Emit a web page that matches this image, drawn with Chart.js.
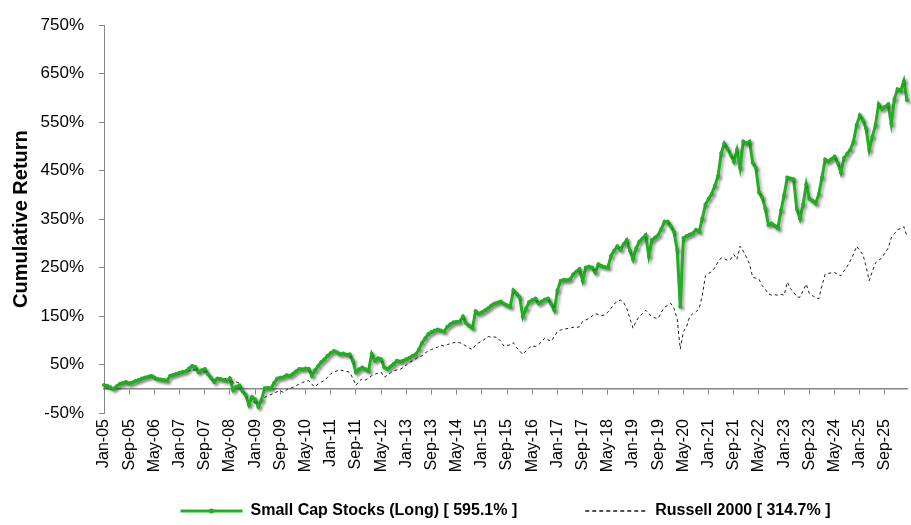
<!DOCTYPE html>
<html>
<head>
<meta charset="utf-8">
<script src="https://cdn.jsdelivr.net/npm/chart.js@4.4.0/dist/chart.umd.min.js"></script>
<style>
  html, body { margin: 0; padding: 0; background: #ffffff; }
  #wrap { width: 911px; height: 525px; position: relative; }
</style>
</head>
<body>
<div id="wrap"><canvas id="c"></canvas></div>
<script>
// ---- Data (monthly, Jan-05 .. Apr-26) ----
const monthNames = ['Jan','Feb','Mar','Apr','May','Jun','Jul','Aug','Sep','Oct','Nov','Dec'];
const startYear = 2005;
const monthCount = 256;
const categories = [];
for (let i = 0; i < monthCount; i++) {
  const y = startYear + Math.floor(i / 12);
  categories.push(monthNames[i % 12] + '-' + String(y % 100).padStart(2, '0'));
}

const smallCapLong = [
  8,6,3,0,5,10,12,14,11,13,
  16,18,21,23,25,27,23,20,19,18,
  17,27,29,31,33,35,36,42,47,45,
  34,38,41,30,22,14,21,20,18,17,
  21,-3,4,7,-5,-13,-33,-17,-22,-37,
  -23,1,2,1,12,21,23,24,28,27,
  31,36,41,40,42,
  41,27,38,47,55,61,
  68,74,78,75,71,73,70,71,58,34,
  40,44,40,37,72,58,63,61,44,41,
  46,51,58,56,58,61,64,68,71,81,
  95,104,113,117,120,122,120,118,128,133,
  137,138,139,149,135,130,125,160,155,158,
  162,166,172,176,178,180,175,172,
  169,203,196,
  189,149,165,179,183,186,176,180,184,186,
  175,162,203,223,225,224,226,236,242,247,
  223,250,252,250,240,257,253,251,250,274,
  285,294,287,298,307,285,267,290,304,310,
  317,274,307,312,317,330,345,345,335,324,
  287,169,311,315,318,321,328,324,351,380,392,
  402,419,439,486,506,495,483,469,493,456,
  510,506,510,466,456,405,395,372,338,341,
  336,331,368,400,436,434,432,371,351,380,
  422,392,388,382,402,436,473,469,474,479,
  466,446,476,485,493,510,544,564,554,537,
  493,520,544,587,577,582,587,547,598,618,
  615,635,595
];

const russell2000 = [
  5,3,0,-1,4,8,10,11,9,12,
  15,17,20,22,23,24,20,18,17,18,
  19,25,27,29,31,33,34,37,40,38,
  31,33,35,28,22,18,23,21,20,22,
  25,11,14,12,-2,-18,-27,-24,-30,-37,
  -28,-18,-14,-12,-9,-6,-4,-8,-2,1,
  3,6,10,13,15,
  17,9,4,10,14,17,
  24,31,35,37,39,37,36,34,22,7,
  15,21,18,22,27,30,32,34,24,28,
  33,37,39,40,44,49,54,58,62,66,
  68,74,78,81,84,86,90,88,91,93,
  95,96,95,92,88,84,81,90,95,98,
  103,108,106,107,105,98,88,89,
  91,95,85,
  78,71,78,85,88,87,91,97,105,101,
  98,108,118,121,123,124,125,127,126,128,
  139,142,145,150,155,153,151,152,158,166,
  175,180,183,178,166,145,125,140,149,155,
  162,155,149,146,145,158,168,172,176,166,
  145,82,118,128,149,155,159,165,193,233,238,
  242,250,262,270,268,265,267,277,267,294,
  284,272,257,230,228,226,213,205,196,193,
  194,193,195,193,220,206,200,189,189,202,
  216,196,192,188,186,213,236,238,239,240,
  236,233,243,252,264,278,294,285,277,253,
  223,242,260,265,270,280,290,311,320,328,
  331,334,315
];

const yTicks = [-50, 50, 150, 250, 350, 450, 550, 650, 750];
const labelEvery = 8;
const seriesNames = ['Small Cap Stocks (Long) [ 595.1% ]', 'Russell 2000 [ 314.7% ]'];

// ---- Styling ----
const GREEN = '#22b022';
const AXIS_GRAY = '#868686';
Chart.defaults.font.family = "'Liberation Sans', Arial, sans-serif";
Chart.defaults.color = '#000000';

const shadowPlugin = {
  id: 'lineShadow',
  beforeDatasetDraw(chart, args) {
    if (args.index === 0) {
      const ctx = chart.ctx;
      ctx.save();
      ctx.shadowColor = 'rgba(0,0,0,0.35)';
      ctx.shadowBlur = 3;
      ctx.shadowOffsetX = 2;
      ctx.shadowOffsetY = 2;
    }
  },
  afterDatasetDraw(chart, args) {
    if (args.index === 0) chart.ctx.restore();
  }
};

const legendMarkerPlugin = {
  id: 'legendMarker',
  afterDraw(chart) {
    const lg = chart.legend;
    if (!lg || !lg.legendHitBoxes || !lg.legendHitBoxes[0]) return;
    const hb = lg.legendHitBoxes[0];
    const boxW = lg.options.labels.pointStyleWidth;
    const fs = lg.options.labels.font.size;
    const ctx = chart.ctx;
    ctx.save();
    ctx.fillStyle = GREEN;
    ctx.beginPath();
    ctx.arc(hb.left + boxW / 2, hb.top + fs / 2, 2.5, 0, Math.PI * 2);
    ctx.fill();
    ctx.restore();
  }
};

function noSidePadding(scale) { scale.paddingLeft = 0; scale.paddingRight = 0; }

new Chart(document.getElementById('c'), {
  type: 'line',
  data: {
    labels: categories,
    datasets: [
      {
        label: seriesNames[0],
        data: smallCapLong,
        borderColor: GREEN,
        backgroundColor: GREEN,
        borderWidth: 3,
        pointRadius: 2,
        pointBackgroundColor: GREEN,
        pointBorderWidth: 0,
        pointStyle: 'circle',
        tension: 0,
        fill: false
      },
      {
        label: seriesNames[1],
        data: russell2000,
        borderColor: '#1a1a1a',
        backgroundColor: '#1a1a1a',
        borderWidth: 1,
        borderDash: [3, 3],
        pointRadius: 0,
        tension: 0,
        fill: false
      }
    ]
  },
  options: {
    responsive: true,
    maintainAspectRatio: false,
    animation: false,
    layout: { padding: { left: 0, right: 2, top: 18, bottom: 0 } },
    plugins: {
      tooltip: { enabled: false },
      legend: {
        position: 'bottom',
        fullSize: false,
        maxHeight: 112,
        title: { display: true, text: ' ', padding: 0, font: { size: 15, lineHeight: 1.4667 } },
        labels: {
          usePointStyle: true,
          pointStyle: 'line',
          pointStyleWidth: 62,
          padding: 68,
          font: { size: 16, weight: 'bold' },
          color: '#000000',
          generateLabels(chart) {
            return chart.data.datasets.map((ds, i) => ({
              text: ds.label,
              fillStyle: ds.borderColor,
              strokeStyle: ds.borderColor,
              lineWidth: i === 0 ? 3 : 1.5,
              lineDash: i === 0 ? [] : [4, 3],
              pointStyle: 'line',
              hidden: false,
              datasetIndex: i,
              fontColor: '#000000'
            }));
          }
        }
      }
    },
    scales: {
      x: {
        type: 'category',
        position: { y: -50 },
        offset: false,
        grid: { display: false, drawTicks: false },
        border: { display: false },
        afterFit: noSidePadding,
        ticks: {
          autoSkip: false,
          maxRotation: 90,
          minRotation: 90,
          padding: 6,
          font: { size: 16 },
          color: '#000000',
          callback(value, index) { return index % labelEvery === 0 ? categories[index] : ''; }
        }
      },
      x0: {
        type: 'category',
        axis: 'x',
        position: { y: 0 },
        offset: false,
        afterFit: noSidePadding,
        grid: {
          drawOnChartArea: false,
          drawTicks: true,
          tickLength: 5,
          lineWidth: 1,
          color(ctx) { return ctx.index % labelEvery === 0 ? AXIS_GRAY : 'rgba(0,0,0,0)'; }
        },
        border: { display: true, color: AXIS_GRAY, width: 1.5 },
        ticks: { display: false, autoSkip: false }
      },
      y: {
        type: 'linear',
        position: 'left',
        min: -50,
        max: 750,
        afterBuildTicks(scale) { scale.ticks = yTicks.map(v => ({ value: v })); },
        afterFit(scale) { scale.width = 104; },
        grid: { drawOnChartArea: false, drawTicks: true, tickLength: 5, color: AXIS_GRAY },
        border: { display: true, color: AXIS_GRAY, width: 1 },
        ticks: {
          padding: 15,
          font: { size: 17 },
          color: '#000000',
          callback(v) { return v + '%'; }
        },
        title: {
          display: true,
          text: 'Cumulative Return',
          font: { size: 20, weight: 'bold' },
          color: '#000000',
          padding: { top: 9, bottom: 0 }
        }
      }
    }
  },
  plugins: [shadowPlugin, legendMarkerPlugin]
});
</script>
</body>
</html>
